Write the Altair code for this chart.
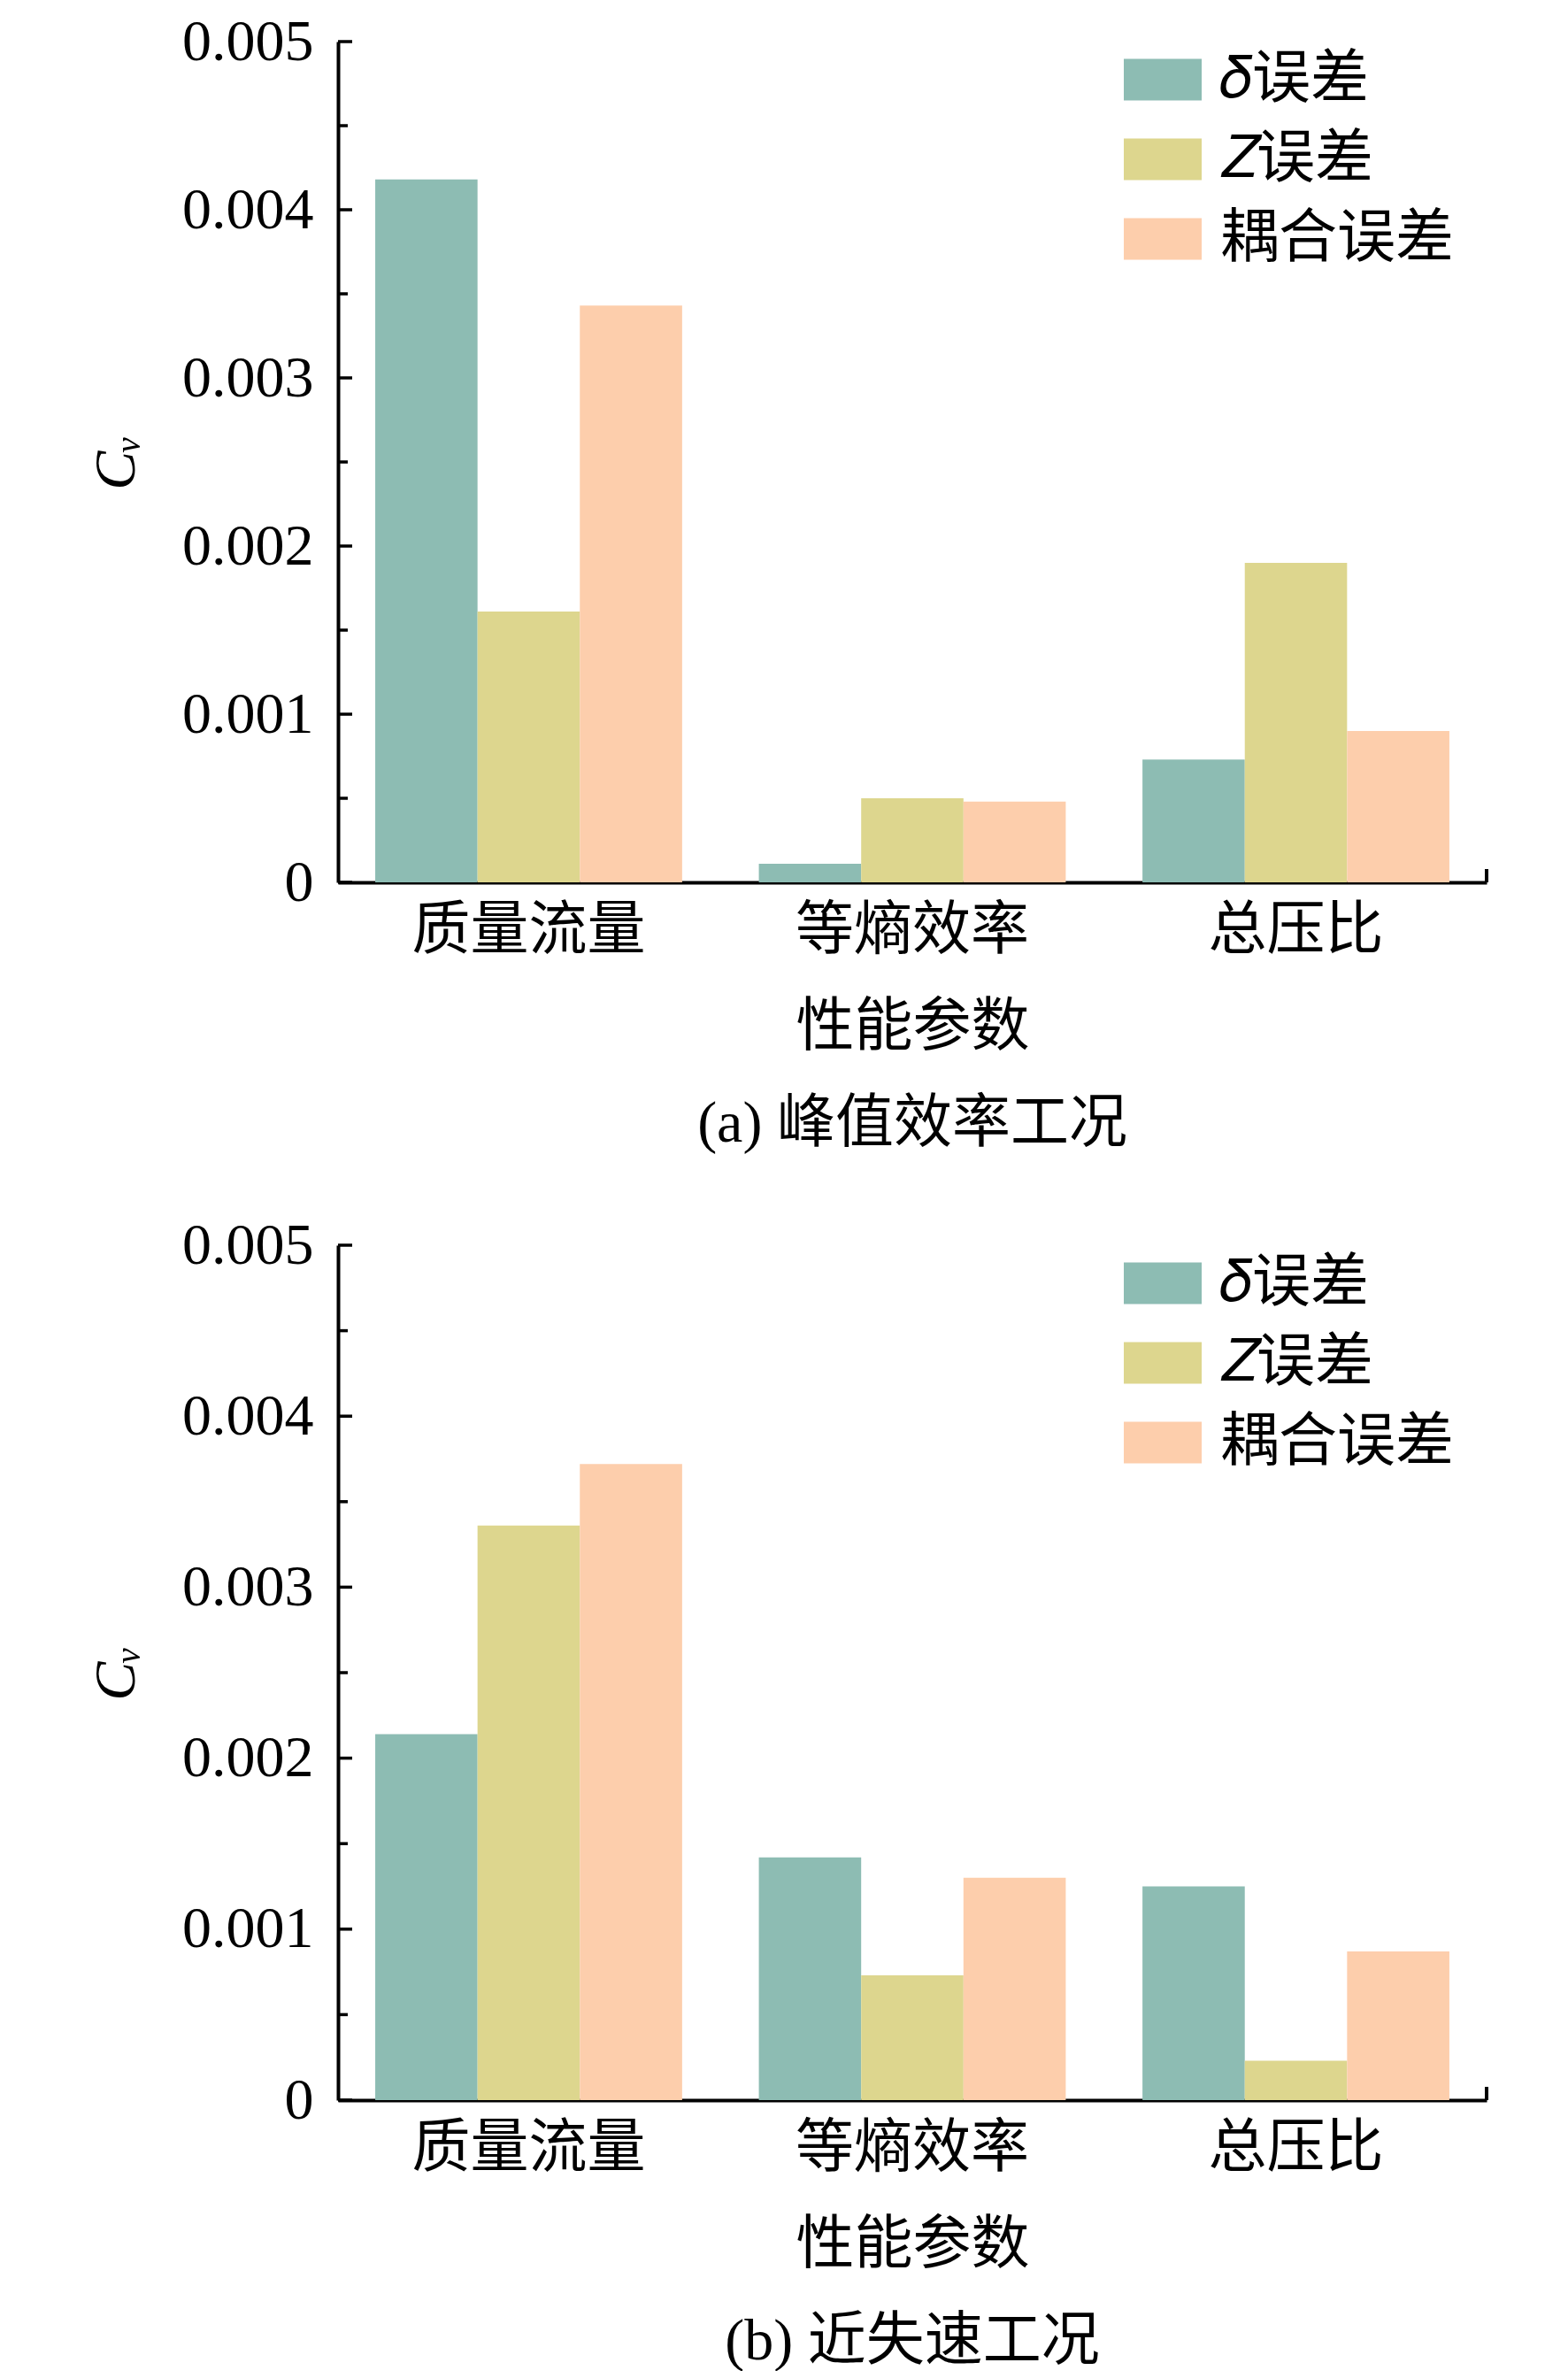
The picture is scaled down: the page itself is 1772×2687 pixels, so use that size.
import altair as alt
import pandas as pd

# ---- data ----
params = ["质量流量", "等熵效率", "总压比"]
series = ["𝛿误差", "𝑍误差", "耦合误差"]
colors = ["#8DBCB3", "#DDD68E", "#FDCEAC"]

a_delta = [0.00418, 0.00011, 0.00073]
a_z = [0.00161, 0.00050, 0.00190]
a_coupled = [0.00343, 0.00048, 0.00090]

b_delta = [0.00214, 0.00142, 0.00125]
b_z = [0.00336, 0.00073, 0.00023]
b_coupled = [0.00372, 0.00130, 0.00087]

y_major = [0, 0.001, 0.002, 0.003, 0.004, 0.005]
y_minor = [0.0005, 0.0015, 0.0025, 0.0035, 0.0045]
captions = ["(a) 峰值效率工况", "(b) 近失速工况"]
x_title = "性能参数"
y_title = "Cᵥ"

W = 1298
FONT = "Liberation Serif, Noto Sans CJK SC"
FS = 66


def y_axis():
    return alt.Axis(title=y_title, values=y_major, format=".3~f", ticks=False,
                    grid=False, domainWidth=4, domainColor="black",
                    labelFontSize=FS, labelFont=FONT, labelPadding=28,
                    labelColor="black", labelLimit=1000,
                    titleFontSize=FS, titleFont=FONT, titleFontStyle="italic",
                    titleFontWeight="normal", titlePadding=40, titleColor="black")


def panel(d, z, c, caption, H, legend_y):
    df = pd.DataFrame({
        "param": params * 3,
        "series": [series[0]] * 3 + [series[1]] * 3 + [series[2]] * 3,
        "value": d + z + c,
    })
    y_scale = alt.Scale(domain=[0, 0.005], nice=False, zero=True)
    bars = alt.Chart(df).mark_bar().encode(
        x=alt.X("param:N", sort=params,
                scale=alt.Scale(paddingInner=0.2, paddingOuter=0.097),
                axis=alt.Axis(title=x_title, ticks=False, domainWidth=4, domainColor="black",
                              labelAngle=0, labelFontSize=FS, labelFont=FONT, labelPadding=22,
                              labelColor="black", labelLimit=1000,
                              titleFontSize=FS, titleFont=FONT, titleFontWeight="normal",
                              titlePadding=44, titleColor="black")),
        xOffset=alt.XOffset("series:N", sort=series,
                            scale=alt.Scale(paddingInner=0, paddingOuter=0)),
        y=alt.Y("value:Q", scale=y_scale, axis=y_axis()),
        color=alt.Color("series:N", sort=series,
                        scale=alt.Scale(domain=series, range=colors),
                        legend=alt.Legend(title=None, orient="none", legendX=888,
                                          legendY=legend_y,
                                          symbolType="M-1,-0.534H1V0.534H-1Z",
                                          symbolSize=7744, symbolStrokeWidth=0,
                                          symbolOpacity=1, labelFontSize=FS, labelFont=FONT,
                                          labelColor="black", labelOffset=21, labelLimit=1000,
                                          rowPadding=13, padding=0)),
    )
    major = alt.Chart(pd.DataFrame({"value": y_major})).mark_rule(
        color="black", strokeWidth=3.5).encode(
        y=alt.Y("value:Q", scale=y_scale, axis=y_axis()), x=alt.value(0), x2=alt.value(16))
    minor = alt.Chart(pd.DataFrame({"value": y_minor})).mark_rule(
        color="black", strokeWidth=3.5).encode(
        y=alt.Y("value:Q", scale=y_scale, axis=y_axis()), x=alt.value(0), x2=alt.value(11))
    end_tick = alt.Chart(pd.DataFrame({"value": [0]})).mark_rule(
        color="black", strokeWidth=4).encode(
        y=alt.Y("value:Q", scale=y_scale, axis=y_axis()), y2=alt.value(H - 15), x=alt.value(W))
    return alt.layer(bars, major, minor, end_tick).properties(
        width=W, height=H,
        title=alt.TitleParams(caption, orient="bottom", fontSize=FS, font=FONT,
                              fontWeight="normal", offset=45, anchor="middle",
                              frame="group", color="black"))


top = panel(a_delta, a_z, a_coupled, captions[0], 950, -1)
bottom = panel(b_delta, b_z, b_coupled, captions[1], 966, -1)

chart = alt.vconcat(top, bottom, spacing=71).resolve_legend(color="independent").properties(
    padding={"left": 90, "top": 6, "right": 10, "bottom": 0}
).configure_view(strokeWidth=0)

chart.save("out.html", embed_options={"renderer": "svg", "actions": False})
